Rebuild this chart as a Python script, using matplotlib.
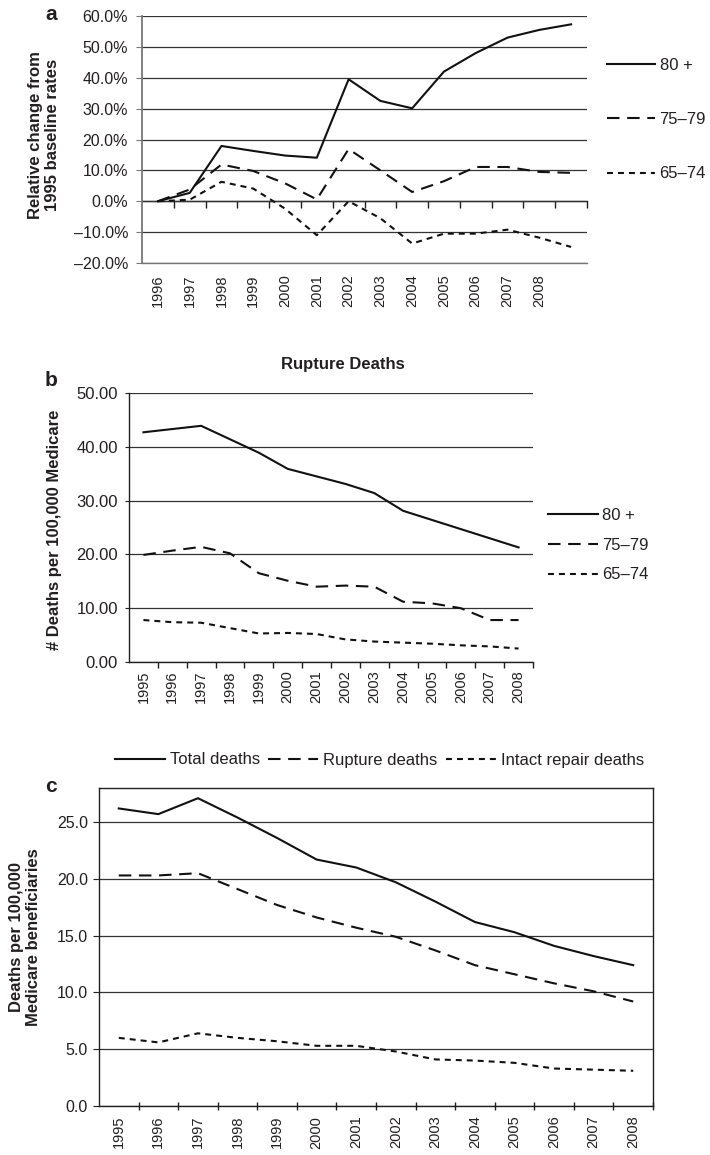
import matplotlib
matplotlib.use('Agg')
import matplotlib.pyplot as plt
from matplotlib.ticker import FuncFormatter

plt.rcParams['font.family'] = ['Liberation Sans', 'DejaVu Sans']
plt.rcParams['lines.scale_dashes'] = False
INK = '#231f20'
plt.rcParams['text.color'] = INK
plt.rcParams['xtick.color'] = INK
plt.rcParams['ytick.color'] = INK

# panel a: relative change from 1995 baseline (%)
years_a = ['1996', '1997', '1998', '1999', '2000', '2001', '2002',
           '2003', '2004', '2005', '2006', '2007', '2008', '']
a_80 = [0, 2.7, 17.9, 16.3, 14.8, 14.1, 39.5, 32.5, 30.1, 42.0, 48.0, 53.0, 55.5, 57.3]
a_75 = [0, 3.8, 11.9, 9.8, 5.8, 0.6, 16.9, 10.0, 3.0, 6.5, 11.1, 11.1, 9.5, 9.2]
a_65 = [0, 0.5, 6.3, 4.1, -2.4, -11.0, 0.0, -5.5, -13.7, -10.5, -10.5, -9.2, -11.8, -14.8]

# panel b: rupture deaths per 100,000
years = ['1995', '1996', '1997', '1998', '1999', '2000', '2001',
         '2002', '2003', '2004', '2005', '2006', '2007', '2008']
b_80 = [42.7, 43.3, 43.9, 41.4, 38.9, 35.9, 34.5, 33.1, 31.4, 28.1, 26.4, 24.7, 23.0, 21.3]
b_75 = [19.9, 20.7, 21.4, 20.2, 16.5, 15.1, 14.0, 14.2, 14.0, 11.2, 10.9, 10.0, 7.8, 7.8]
b_65 = [7.8, 7.4, 7.3, 6.3, 5.3, 5.4, 5.2, 4.2, 3.8, 3.6, 3.4, 3.1, 2.9, 2.5]

# panel c: deaths per 100,000 beneficiaries
c_total = [26.2, 25.7, 27.1, 25.4, 23.6, 21.7, 21.0, 19.7, 18.0, 16.2, 15.3, 14.1, 13.2, 12.4]
c_rupture = [20.3, 20.3, 20.5, 19.1, 17.7, 16.6, 15.7, 14.9, 13.7, 12.4, 11.6, 10.8, 10.1, 9.2]
c_intact = [6.0, 5.6, 6.4, 6.0, 5.7, 5.3, 5.3, 4.8, 4.1, 4.0, 3.8, 3.3, 3.2, 3.1]

age_labels = ['80 +', '75\u201379', '65\u201374']
c_labels = ['Total deaths', 'Rupture deaths', 'Intact repair deaths']

SOLID = '-'
LONG = (0, (9, 5.5))
SHORT = (0, (4.3, 3.6))
styles = [SOLID, LONG, SHORT]
LW = 1.5
GRID = '#333333'
XFS = 10.5

W, H = 710, 1155
fig = plt.figure(figsize=(W / 100, H / 100), dpi=100)


def box(left, right, top, bottom):
    return [left / W, 1 - bottom / H, (right - left) / W, (bottom - top) / H]


def setup_x(ax, labels, size):
    n = len(labels)
    ax.set_xlim(-0.5, n - 0.5)
    ax.set_xticks(range(n))
    ax.set_xticklabels(labels, rotation=90, fontsize=size)
    ax.set_xticks([k + 0.5 for k in range(n)], minor=True)


# ---------- panel a ----------
ax = fig.add_axes(box(142, 587, 16, 263))
x = range(len(years_a))
for vals, ls, lab in zip([a_80, a_75, a_65], styles, age_labels):
    ax.plot(x, vals, color='#111111', lw=LW, linestyle=ls, label=lab)
ax.set_ylim(-20, 60)
ax.set_yticks(range(-20, 61, 10))
ax.yaxis.set_major_formatter(FuncFormatter(
    lambda v, p: ('%.1f%%' % v).replace('-', '\u2013')))
ax.grid(axis='y', color=GRID, lw=0.9)
ax.set_axisbelow(True)
setup_x(ax, years_a, XFS)
ax.tick_params(axis='x', which='major', length=0, pad=8)
ax.tick_params(axis='x', which='minor', length=0)
ax.tick_params(axis='y', length=4, labelsize=11.5, pad=6, color='#777777')
for s in ['top', 'right']:
    ax.spines[s].set_visible(False)
ax.spines['left'].set_color('#777777')
ax.spines['left'].set_linewidth(1.3)
ax.spines['bottom'].set_color('#777777')
ax.spines['bottom'].set_linewidth(1.0)
sec = ax.secondary_xaxis(0.25)
sec.set_xticks([k + 0.5 for k in range(len(years_a))])
sec.set_xticklabels([])
sec.tick_params(length=5, direction='out', color=INK, width=1)
sec.spines['bottom'].set_color(INK)
sec.spines['bottom'].set_linewidth(1.0)
ax.legend(loc='upper left', bbox_to_anchor=(607 / W, 1 - 58 / H),
          bbox_transform=fig.transFigure, frameon=False, fontsize=12,
          handlelength=2.9, handletextpad=0.25, labelspacing=2.35,
          borderpad=0, borderaxespad=0)
fig.text(44 / W, 1 - 135 / H, 'Relative change from\n1995 baseline rates',
         rotation=90, ha='center', va='center', fontsize=12, fontweight='bold',
         multialignment='center', linespacing=1.15)
fig.text(51 / W, 1 - 15 / H, 'a', fontsize=15, fontweight='bold',
         ha='center', va='center')

# ---------- panel b ----------
ax = fig.add_axes(box(129, 533, 393, 662))
x = range(len(years))
for vals, ls, lab in zip([b_80, b_75, b_65], styles, age_labels):
    ax.plot(x, vals, color='#111111', lw=LW, linestyle=ls, label=lab)
ax.set_ylim(0, 50)
ax.set_yticks(range(0, 51, 10))
ax.yaxis.set_major_formatter(FuncFormatter(lambda v, p: '%.2f' % v))
ax.grid(axis='y', color=GRID, lw=0.9)
ax.set_axisbelow(True)
setup_x(ax, years, XFS)
ax.tick_params(axis='x', which='major', length=0, pad=6)
ax.tick_params(axis='x', which='minor', length=4, direction='out', width=1)
ax.tick_params(axis='y', length=3, labelsize=12, pad=5)
for s in ['top', 'right']:
    ax.spines[s].set_visible(False)
for s in ['left', 'bottom']:
    ax.spines[s].set_color(INK)
    ax.spines[s].set_linewidth(1.0)
ax.legend(loc='upper left', bbox_to_anchor=(548 / W, 1 - 508 / H),
          bbox_transform=fig.transFigure, frameon=False, fontsize=12,
          handlelength=3.0, handletextpad=0.25, labelspacing=0.88,
          borderpad=0, borderaxespad=0)
fig.text(343 / W, 1 - 364 / H, 'Rupture Deaths', fontsize=12,
         fontweight='bold', ha='center', va='center')
fig.text(55 / W, 1 - 530 / H, '# Deaths per 100,000 Medicare',
         rotation=90, ha='center', va='center', fontsize=12, fontweight='bold')
fig.text(51 / W, 1 - 380 / H, 'b', fontsize=15, fontweight='bold',
         ha='center', va='center')

# ---------- panel c ----------
ax = fig.add_axes(box(99, 653, 788, 1106))
for vals, ls, lab in zip([c_total, c_rupture, c_intact], styles, c_labels):
    ax.plot(x, vals, color='#111111', lw=LW, linestyle=ls, label=lab)
ax.set_ylim(0, 28)
ax.set_yticks(range(0, 26, 5))
ax.yaxis.set_major_formatter(FuncFormatter(lambda v, p: '%.1f' % v))
ax.grid(axis='y', color=GRID, lw=0.9)
ax.set_axisbelow(True)
setup_x(ax, years, XFS)
ax.tick_params(axis='x', which='major', length=0, pad=7)
ax.tick_params(axis='x', which='minor', length=6, direction='inout', width=1)
ax.tick_params(axis='y', length=4, labelsize=11.5, pad=4)
for s in ax.spines.values():
    s.set_color(INK)
    s.set_linewidth(1.0)
ax.legend(loc='center', bbox_to_anchor=(379.5 / W, 1 - 760 / H),
          bbox_transform=fig.transFigure, frameon=False, fontsize=12, ncol=3,
          handlelength=3.0, handletextpad=0.3, columnspacing=0.5,
          borderpad=0, borderaxespad=0)
fig.text(25 / W, 1 - 937 / H, 'Deaths per 100,000\nMedicare beneficiaries',
         rotation=90, ha='center', va='center', fontsize=12, fontweight='bold',
         multialignment='center', linespacing=1.15)
fig.text(51 / W, 1 - 787 / H, 'c', fontsize=15, fontweight='bold',
         ha='center', va='center')

fig.savefig('out.png', dpi=100)
